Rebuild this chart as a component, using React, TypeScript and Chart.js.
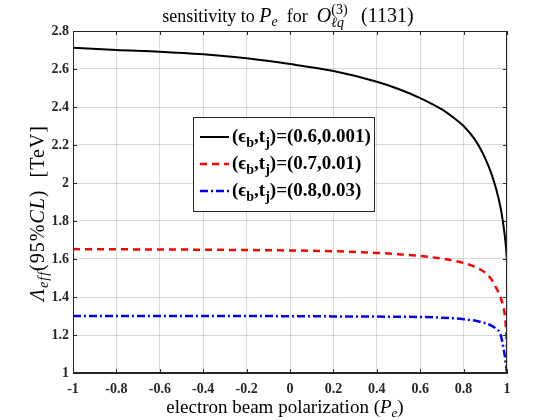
import React, { useEffect, useRef } from "react";
import { Chart, registerables } from "chart.js";

Chart.register(...registerables);

const pe = [-1, -0.8, -0.6, -0.4, -0.2, 0, 0.2, 0.4, 0.5, 0.6, 0.7, 0.75, 0.8, 0.85, 0.875, 0.9, 0.93, 0.95, 0.97, 0.98, 0.99, 0.995, 1];
const lambdaA = [2.712, 2.7, 2.691, 2.677, 2.656, 2.626, 2.589, 2.533, 2.495, 2.447, 2.387, 2.347, 2.3, 2.232, 2.185, 2.128, 2.043, 1.968, 1.872, 1.806, 1.72, 1.665, 1.585];
const lambdaB = [1.652, 1.651, 1.65, 1.649, 1.647, 1.645, 1.641, 1.632, 1.625, 1.616, 1.602, 1.592, 1.579, 1.56, 1.546, 1.527, 1.49, 1.448, 1.4, 1.36, 1.305, 1.24, 1.13];
const lambdaC = [1.3, 1.3, 1.3, 1.3, 1.3, 1.299, 1.298, 1.297, 1.296, 1.295, 1.291, 1.288, 1.283, 1.276, 1.27, 1.262, 1.248, 1.232, 1.205, 1.155, 1.09, 1.045, 1.0];
const epsB = ["0.6", "0.7", "0.8"];
const tJ = ["0.001", "0.01", "0.03"];
const xTicks = [-1, -0.8, -0.6, -0.4, -0.2, 0, 0.2, 0.4, 0.6, 0.8, 1];
const yTicks = [1, 1.2, 1.4, 1.6, 1.8, 2, 2.2, 2.4, 2.6, 2.8];

const SERIF = '"Liberation Serif", "DejaVu Serif", serif';
const AX = "#262626";

type Seg = { t: string; f: string; dy?: number; over?: boolean };

function drawRich(ctx: CanvasRenderingContext2D, segs: Seg[], x: number, y: number, align: "left" | "center") {
  let total = 0;
  let prevStart = 0;
  let prevW = 0;
  for (const s of segs) {
    ctx.font = s.f;
    const w = ctx.measureText(s.t).width;
    if (s.over) {
      total = prevStart + Math.max(prevW, w);
    } else {
      prevStart = total;
      prevW = w;
      total += w;
    }
  }
  const start = align === "center" ? x - total / 2 : x;
  let pStart = 0;
  let pW = 0;
  let cur = 0;
  ctx.textAlign = "left";
  ctx.textBaseline = "alphabetic";
  for (const s of segs) {
    ctx.font = s.f;
    const w = ctx.measureText(s.t).width;
    if (s.over) {
      ctx.fillText(s.t, start + pStart, y + (s.dy || 0));
      cur = pStart + Math.max(pW, w);
    } else {
      pStart = cur;
      pW = w;
      ctx.fillText(s.t, start + cur, y + (s.dy || 0));
      cur += w;
    }
  }
}

const decorPlugin = {
  id: "decor",
  afterDraw(chart: any) {
    const ctx: CanvasRenderingContext2D = chart.ctx;
    const { left, right, top, bottom } = chart.chartArea;
    const xs = chart.scales.x;
    const ys = chart.scales.y;
    ctx.save();
    ctx.strokeStyle = AX;
    ctx.lineWidth = 1;
    ctx.beginPath();
    ctx.moveTo(left + 0.5, top + 0.5);
    ctx.lineTo(right - 0.5, top + 0.5);
    ctx.lineTo(right - 0.5, bottom - 0.5);
    ctx.lineTo(left + 0.5, bottom - 0.5);
    ctx.closePath();
    ctx.stroke();
    ctx.beginPath();
    for (const v of xTicks) {
      const px = Math.round(xs.getPixelForValue(v)) + 0.5;
      ctx.moveTo(px, bottom);
      ctx.lineTo(px, bottom - 4);
      ctx.moveTo(px, top);
      ctx.lineTo(px, top + 4);
    }
    for (const v of yTicks) {
      const py = Math.round(ys.getPixelForValue(v)) + 0.5;
      ctx.moveTo(left, py);
      ctx.lineTo(left + 4, py);
      ctx.moveTo(right, py);
      ctx.lineTo(right - 4, py);
    }
    ctx.stroke();

    ctx.fillStyle = "#000";
    const f18 = `18px ${SERIF}`;
    const f19 = `19px ${SERIF}`;
    const i19 = `italic 19px ${SERIF}`;
    const i20 = `italic 20px ${SERIF}`;
    const f20 = `20px ${SERIF}`;
    const i13 = `italic 13px ${SERIF}`;
    const i14 = `italic 14px ${SERIF}`;
    const n14 = `14px ${SERIF}`;
    drawRich(
      ctx,
      [
        { t: "sensitivity to ", f: f18 },
        { t: "P", f: i20 },
        { t: "e", f: i14, dy: 4 },
        { t: "  for  ", f: f18 },
        { t: "O", f: i20 },
        { t: "(3)", f: n14, dy: -8 },
        { t: "ℓq", f: i14, dy: 5, over: true },
        { t: "   ", f: f18 },
        { t: "(1131)", f: f20 },
      ],
      288,
      22,
      "center"
    );
    drawRich(
      ctx,
      [
        { t: "electron beam polarization (", f: f19 },
        { t: "P", f: i19 },
        { t: "e", f: i13, dy: 4 },
        { t: ")", f: f19 },
      ],
      285,
      413,
      "center"
    );
    ctx.save();
    ctx.translate(44, 213);
    ctx.rotate(-Math.PI / 2);
    (ctx as any).letterSpacing = "1px";
    drawRich(
      ctx,
      [
        { t: "Λ", f: `italic 20px ${SERIF}` },
        { t: "eff", f: `italic 14px ${SERIF}`, dy: 4 },
        { t: "(95%", f: `20px ${SERIF}` },
        { t: "CL", f: `italic 20px ${SERIF}` },
        { t: ")  [TeV]", f: `20px ${SERIF}` },
      ],
      0,
      0,
      "center"
    );
    (ctx as any).letterSpacing = "0px";
    ctx.restore();

    const lx = 193.5, ly = 117.5, lw = 181, lh = 94;
    ctx.fillStyle = "#fff";
    ctx.fillRect(lx, ly, lw, lh);
    ctx.strokeStyle = AX;
    ctx.lineWidth = 1;
    ctx.setLineDash([]);
    ctx.strokeRect(lx, ly, lw, lh);
    const baselines = [142, 169, 196];
    chart.data.datasets.forEach((ds: any, i: number) => {
      const by = baselines[i];
      ctx.strokeStyle = ds.borderColor;
      ctx.lineWidth = ds.borderWidth;
      ctx.setLineDash(ds.borderDash || []);
      ctx.beginPath();
      ctx.moveTo(200, by - 5);
      ctx.lineTo(229, by - 5);
      ctx.stroke();
      ctx.setLineDash([]);
      ctx.fillStyle = "#000";
      const b19 = `bold 19px ${SERIF}`;
      const b14 = `bold 14px ${SERIF}`;
      drawRich(
        ctx,
        [
          { t: "(ϵ", f: b19 },
          { t: "b", f: b14, dy: 5 },
          { t: ",t", f: b19 },
          { t: "j", f: b14, dy: 5 },
          { t: `)=(${epsB[i]},${tJ[i]})`, f: b19 },
        ],
        232,
        by,
        "left"
      );
    });
    ctx.restore();
  },
};

export default function App() {
  const ref = useRef<HTMLCanvasElement | null>(null);
  useEffect(() => {
    if (!ref.current) return;
    const mk = (arr: number[]) => pe.map((x, i) => ({ x, y: arr[i] }));
    const chart = new Chart(ref.current, {
      type: "line",
      data: {
        datasets: [
          {
            label: `(ϵb,tj)=(${epsB[0]},${tJ[0]})`,
            data: mk(lambdaA),
            borderColor: "#000000",
            borderWidth: 2,
            pointRadius: 0,
            fill: false,
            cubicInterpolationMode: "monotone",
          },
          {
            label: `(ϵb,tj)=(${epsB[1]},${tJ[1]})`,
            data: mk(lambdaB),
            borderColor: "#ff0000",
            borderWidth: 2.5,
            borderDash: [7, 5],
            pointRadius: 0,
            fill: false,
            cubicInterpolationMode: "monotone",
          },
          {
            label: `(ϵb,tj)=(${epsB[2]},${tJ[2]})`,
            data: mk(lambdaC),
            borderColor: "#0000ff",
            borderWidth: 2.5,
            borderDash: [8, 3, 2, 3],
            pointRadius: 0,
            fill: false,
            cubicInterpolationMode: "monotone",
          },
        ],
      },
      options: {
        animation: false,
        responsive: false,
        layout: { padding: { top: 31, right: 53, bottom: 0, left: 0 } },
        plugins: { legend: { display: false }, title: { display: false }, tooltip: { enabled: false } },
        scales: {
          x: {
            type: "linear",
            min: -1,
            max: 1,
            afterFit: (s: any) => {
              s.height = 47;
            },
            afterBuildTicks: (s: any) => {
              s.ticks = xTicks.map((v) => ({ value: v }));
            },
            ticks: {
              font: { family: SERIF, size: 14, weight: "bold" },
              color: AX,
              padding: 8,
              maxRotation: 0,
              autoSkip: false,
              callback: (v: any) => String(Number(Number(v).toFixed(1))),
            },
            grid: { color: "rgba(0,0,0,0.15)", drawTicks: false },
            border: { color: AX },
          },
          y: {
            type: "linear",
            min: 1,
            max: 2.8,
            afterFit: (s: any) => {
              s.width = 73;
            },
            afterBuildTicks: (s: any) => {
              s.ticks = yTicks.map((v) => ({ value: v }));
            },
            ticks: {
              font: { family: SERIF, size: 14, weight: "bold" },
              color: AX,
              padding: 4,
              autoSkip: false,
              callback: (v: any) => String(Number(Number(v).toFixed(1))),
            },
            grid: { color: "rgba(0,0,0,0.15)", drawTicks: false },
            border: { color: AX },
          },
        },
      },
      plugins: [decorPlugin],
    });
    return () => chart.destroy();
  }, []);
  return (
    <div style={{ position: "absolute", left: 0, top: 0, width: 560, height: 420, background: "#fff" }}>
      <canvas ref={ref} width={560} height={420} />
    </div>
  );
}
